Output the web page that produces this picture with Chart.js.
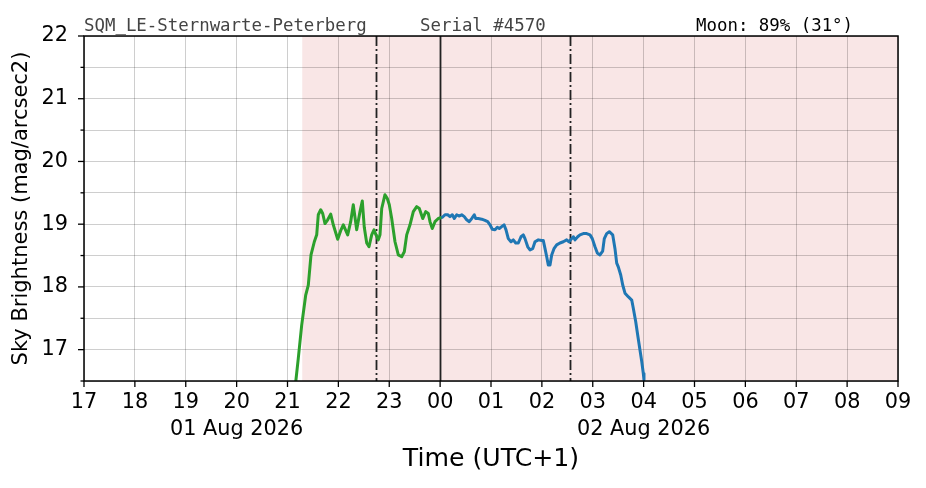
<!DOCTYPE html>
<html>
<head>
<meta charset="utf-8">
<script src="https://cdn.jsdelivr.net/npm/chart.js@4.4.1/dist/chart.umd.min.js"></script>
<style>
  html, body { margin: 0; padding: 0; background: #fff; }
  #wrap { width: 926px; height: 488px; position: relative; }
</style>
</head>
<body>
<div id="wrap"><canvas id="c" width="926" height="488"></canvas></div>
<script>
// ---- Data (time in hours since 00:00 on 01 Aug 2026, UTC+1) ----
const greenTimes = [21.157, 21.212, 21.279, 21.358, 21.409, 21.462, 21.527, 21.574, 21.605, 21.653,
  21.692, 21.737, 21.790, 21.849, 21.900, 21.987, 22.052, 22.097, 22.183, 22.242,
  22.293, 22.360, 22.425, 22.470, 22.509, 22.557, 22.602, 22.655, 22.700, 22.739,
  22.785, 22.818, 22.852, 22.916, 22.962, 23.001, 23.048, 23.113, 23.178, 23.245,
  23.296, 23.343, 23.408, 23.473, 23.540, 23.591, 23.658, 23.717, 23.768, 23.801,
  23.846, 23.899, 23.964, 24.0];
const greenValues = [16.45, 16.86, 17.39, 17.87, 18.03, 18.51, 18.72, 18.83, 19.15, 19.23,
  19.17, 19.01, 19.07, 19.16, 18.99, 18.76, 18.91, 18.99, 18.83, 19.04,
  19.31, 18.91, 19.20, 19.37, 18.95, 18.70, 18.64, 18.83, 18.91, 18.83,
  18.75, 18.83, 19.25, 19.47, 19.41, 19.31, 19.09, 18.72, 18.51, 18.48,
  18.56, 18.83, 18.99, 19.20, 19.28, 19.25, 19.09, 19.20, 19.17, 19.04,
  18.93, 19.04, 19.09, 19.10];
const blueTimes = [24.0, 24.045, 24.096, 24.149, 24.194, 24.239, 24.279, 24.326, 24.371, 24.424,
  24.475, 24.522, 24.573, 24.620, 24.671, 24.699, 24.750, 24.817, 24.882, 24.935,
  24.980, 25.025, 25.079, 25.124, 25.163, 25.210, 25.256, 25.295, 25.340, 25.393,
  25.438, 25.486, 25.537, 25.590, 25.635, 25.668, 25.722, 25.767, 25.820, 25.865,
  25.930, 25.997, 26.028, 26.062, 26.095, 26.126, 26.160, 26.193, 26.238, 26.291,
  26.356, 26.421, 26.488, 26.533, 26.586, 26.618, 26.651, 26.704, 26.749, 26.814,
  26.881, 26.946, 26.991, 27.044, 27.090, 27.142, 27.195, 27.227, 27.274, 27.325,
  27.392, 27.437, 27.471, 27.502, 27.550, 27.589, 27.634, 27.702, 27.766, 27.797,
  27.844, 27.884, 27.929, 27.963, 27.994, 28.007];
const blueValues = [19.10, 19.11, 19.15, 19.15, 19.12, 19.15, 19.09, 19.15, 19.13, 19.15,
  19.12, 19.07, 19.04, 19.09, 19.15, 19.09, 19.09, 19.08, 19.06, 19.04,
  18.99, 18.92, 18.91, 18.95, 18.93, 18.96, 18.99, 18.91, 18.77, 18.72,
  18.75, 18.70, 18.70, 18.80, 18.83, 18.77, 18.64, 18.59, 18.61, 18.72,
  18.75, 18.74, 18.74, 18.61, 18.48, 18.35, 18.35, 18.51, 18.61, 18.67,
  18.70, 18.72, 18.75, 18.72, 18.77, 18.80, 18.75, 18.80, 18.83, 18.85,
  18.85, 18.83, 18.77, 18.64, 18.54, 18.51, 18.57, 18.77, 18.85, 18.88,
  18.83, 18.61, 18.38, 18.32, 18.19, 18.03, 17.90, 17.84, 17.79, 17.66,
  17.45, 17.23, 16.99, 16.81, 16.62, 16.52];

const hourLabels = ['17','18','19','20','21','22','23','00','01','02','03','04','05','06','07','08','09'];
const dateLabels = ['','','','01 Aug 2026','','','','','','','','02 Aug 2026','','','','',''];
const yTickLabels = ['17','18','19','20','21','22'];

const xMin = 17, xMax = 33;
const yMin = 16.5, yMax = 22;
const nightStart = 21.29;              // start of shaded (dark) period
const twilightMarks = [22.74, 26.553]; // dash-dot markers
const midnight = 24;

const siteText = 'SQM_LE-Sternwarte-Peterberg';
const serialText = 'Serial #4570';
const moonText = 'Moon: 89% (31\u00B0)';

// ---- Chart ----
Chart.defaults.font.family = 'DejaVu Sans';
Chart.defaults.color = '#000';

const toXY = (ts, vs) => ts.map((t, i) => ({x: t, y: vs[i]}));

const decor = {
  id: 'decor',
  beforeDraw(chart) {
    const {ctx, chartArea: a, scales: {x}} = chart;
    ctx.save();
    ctx.fillStyle = '#fff';
    ctx.fillRect(0, 0, chart.width, chart.height);
    const xs = x.getPixelForValue(nightStart);
    ctx.fillStyle = 'rgb(249,230,230)';
    ctx.fillRect(xs, a.top, a.right - xs, a.bottom - a.top);
    ctx.restore();
  },
  beforeDatasetsDraw(chart) {
    const {ctx, chartArea: a, scales: {x}} = chart;
    ctx.save();
    ctx.strokeStyle = '#222';
    ctx.lineWidth = 1.8;
    ctx.setLineDash([10, 3, 2, 3]);
    twilightMarks.forEach(t => {
      const px = Math.round(x.getPixelForValue(t)) + 0.5;
      ctx.beginPath(); ctx.moveTo(px, a.top); ctx.lineTo(px, a.bottom); ctx.stroke();
    });
    ctx.setLineDash([]);
    const pm = Math.round(x.getPixelForValue(midnight)) + 0.5;
    ctx.beginPath(); ctx.moveTo(pm, a.top); ctx.lineTo(pm, a.bottom); ctx.stroke();
    ctx.restore();
  },
  afterDraw(chart) {
    const {ctx, chartArea: a, scales: {x, y}} = chart;
    ctx.save();
    // frame
    ctx.strokeStyle = '#000';
    ctx.lineWidth = 1.5;
    ctx.strokeRect(a.left, a.top, a.right - a.left, a.bottom - a.top);
    // ticks
    ctx.lineWidth = 1.3;
    y.ticks.forEach(tk => {
      const py = y.getPixelForValue(tk.value);
      const len = Number.isInteger(tk.value) ? 6 : 3.5;
      ctx.beginPath(); ctx.moveTo(a.left - len, py); ctx.lineTo(a.left, py); ctx.stroke();
    });
    x.ticks.forEach(tk => {
      const px = x.getPixelForValue(tk.value);
      ctx.beginPath(); ctx.moveTo(px, a.bottom); ctx.lineTo(px, a.bottom + 6); ctx.stroke();
    });
    // header texts
    ctx.font = '17.4px "DejaVu Sans Mono"';
    ctx.textBaseline = 'alphabetic';
    ctx.textAlign = 'left';
    ctx.fillStyle = '#444';
    ctx.fillText(siteText, a.left, 31);
    ctx.fillText(serialText, 420, 31);
    ctx.fillStyle = '#000';
    ctx.fillText(moonText, 696, 31);
    ctx.restore();
  }
};

new Chart(document.getElementById('c'), {
  type: 'line',
  data: {
    datasets: [
      { data: toXY(greenTimes, greenValues), borderColor: '#2ca02c', borderWidth: 3,
        borderJoinStyle: 'round', borderCapStyle: 'round',
        pointRadius: 0, tension: 0, fill: false },
      { data: toXY(blueTimes, blueValues), borderColor: '#1f77b4', borderWidth: 3,
        borderJoinStyle: 'round', borderCapStyle: 'round',
        pointRadius: 0, tension: 0, fill: false }
    ]
  },
  options: {
    responsive: false,
    animation: false,
    devicePixelRatio: 1,
    layout: { padding: { top: 36, right: 28, left: 0, bottom: 0 } },
    plugins: { legend: { display: false }, tooltip: { enabled: false } },
    scales: {
      x: {
        type: 'linear', min: xMin, max: xMax,
        afterFit(s) { s.height = 107; },
        border: { display: false },
        grid: { color: 'rgba(0,0,0,0.28)', lineWidth: 0.7, drawTicks: false },
        ticks: {
          stepSize: 1, autoSkip: false, maxRotation: 0, padding: 8.5,
          font: { size: 20.8, lineHeight: 1.3 },
          callback(v) {
            const i = Math.round(v - xMin);
            return dateLabels[i] ? [hourLabels[i], dateLabels[i]] : hourLabels[i];
          }
        },
        title: { display: true, text: 'Time (UTC+1)', font: { size: 25.2 }, padding: { bottom: 13, top: 0 } }
      },
      y: {
        type: 'linear', min: yMin, max: yMax,
        afterFit(s) { s.width = 84; },
        border: { display: false },
        grid: { color: 'rgba(0,0,0,0.28)', lineWidth: 0.7, drawTicks: false },
        ticks: {
          stepSize: 0.5, autoSkip: false, padding: 16,
          font: { size: 20.8 },
          callback(v) {
            const i = yTickLabels.indexOf(String(v));
            return i >= 0 ? yTickLabels[i] : '';
          }
        },
        title: { display: true, text: 'Sky Brightness (mag/arcsec2)', font: { size: 21 }, padding: { top: 9.4, bottom: 0 } }
      }
    }
  },
  plugins: [decor]
});
</script>
</body>
</html>
